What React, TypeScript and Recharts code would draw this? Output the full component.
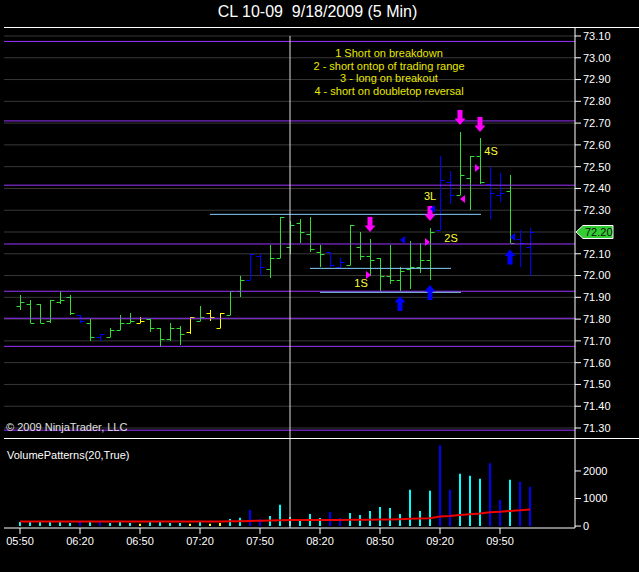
import React from "react";
import {
  ComposedChart,
  Bar,
  Line,
  XAxis,
  YAxis,
  CartesianGrid,
  ReferenceLine,
  ReferenceDot,
  Cell,
} from "recharts";

// 5 minute bars, CL 10-09, 9/18/2009, first bar 05:50
const opens = [
  71.86, 71.87, 71.87, 71.79, 71.88, 71.9, 71.82, 71.78, 71.72, 71.72,
  71.75, 71.78, 71.78, 71.8, 71.76, 71.71, 71.76, 71.74, 71.79, 71.83,
  71.76, 71.82, 71.93, 71.98, 72.09, 72.03, 72.08, 72.13, 72.24, 72.19,
  72.11, 72.11, 72.04, 72.05, 72.13, 72.09, 72.08, 72.0, 71.98, 72.03,
  72.04, 72.07, 72.21, 72.43, 72.37, 72.45, 72.55, 72.42, 72.37, 72.39,
  72.17, 72.13,
];
const highs = [
  71.91, 71.89, 71.87, 71.89, 71.93, 71.91, 71.82, 71.8, 71.73, 71.76,
  71.82, 71.83, 71.81, 71.8, 71.76, 71.78, 71.77, 71.81, 71.86, 71.84,
  71.83, 71.93, 72.0, 72.1, 72.1, 72.14, 72.27, 72.25, 72.26, 72.27,
  72.14, 72.11, 72.08, 72.23, 72.2, 72.17, 72.08, 72.14, 72.04, 72.16,
  72.15, 72.22, 72.55, 72.48, 72.66, 72.55, 72.63, 72.5, 72.47, 72.46,
  72.21, 72.22,
];
const lows = [
  71.84, 71.78, 71.78, 71.78, 71.87, 71.82, 71.78, 71.7, 71.7, 71.72,
  71.75, 71.78, 71.78, 71.74, 71.67, 71.7, 71.68, 71.73, 71.79, 71.79,
  71.76, 71.82, 71.9, 71.98, 72.0, 71.99, 72.08, 72.1, 72.15, 72.11,
  72.04, 72.04, 72.04, 72.05, 72.07, 72.0, 71.93, 71.96, 71.93, 71.94,
  72.01, 71.98, 72.21, 72.33, 72.37, 72.3, 72.42, 72.26, 72.34, 72.15,
  72.04, 72.0,
];
const closes = [
  71.88, 71.78, 71.78, 71.89, 71.89, 71.83, 71.79, 71.72, 71.73, 71.75,
  71.78, 71.79, 71.79, 71.76, 71.71, 71.76, 71.73, 71.81, 71.81, 71.81,
  71.83, 71.93, 71.98, 72.1, 72.04, 72.08, 72.27, 72.23, 72.2, 72.12,
  72.1, 72.05, 72.06, 72.23, 72.09, 72.07, 72.0, 71.98, 72.02, 72.04,
  72.07, 72.2, 72.44, 72.37, 72.46, 72.55, 72.43, 72.38, 72.38, 72.15,
  72.15, 72.2,
];
// volume pattern of each bar: g normal, b blue, y yellow
const patterns = [
  "g", "g", "g", "g", "g", "g", "b", "g", "b", "g",
  "g", "g", "y", "g", "g", "g", "g", "y", "g", "y",
  "y", "g", "g", "b", "b", "g", "g", "g", "g", "g",
  "g", "b", "b", "g", "g", "g", "g", "g", "g", "g",
  "g", "g", "b", "b", "g", "g", "g", "b", "b", "g",
  "b", "b",
];
const volumes = [
  150, 150, 150, 150, 150, 110, 150, 150, 150, 110,
  150, 110, 85, 180, 150, 110, 110, 85, 150, 85,
  110, 255, 305, 585, 255, 365, 770, 330, 255, 440,
  295, 510, 295, 475, 400, 550, 695, 660, 440, 1320,
  550, 1280, 2930, 1320, 1900, 1830, 1720, 2280, 950, 1680,
  1610, 1430,
];
const volumeAvg = [
  170, 170, 170, 170, 170, 170, 170, 170, 170, 170,
  170, 170, 170, 170, 170, 170, 170, 170, 170, 170,
  170, 172, 176, 188, 192, 198, 212, 218, 220, 222,
  222, 224, 224, 226, 228, 232, 238, 242, 250, 265,
  272, 285, 350, 365, 400, 430, 460, 505, 520, 545,
  570, 605,
];

const timeTicks = [0, 6, 12, 18, 24, 30, 36, 42, 48];
const timeLabels = ["05:50", "06:20", "06:50", "07:20", "07:50", "08:20", "08:50", "09:20", "09:50"];

const gridLevels = [
  73.1, 73.0, 72.9, 72.8, 72.7, 72.6, 72.5, 72.4, 72.3, 72.2,
  72.1, 72.0, 71.9, 71.8, 71.7, 71.6, 71.5, 71.4, 71.3,
];
const priceTicks = [
  73.1, 73.0, 72.9, 72.8, 72.7, 72.6, 72.5, 72.4, 72.3,
  72.1, 72.0, 71.9, 71.8, 71.7, 71.6, 71.5, 71.4, 71.3,
];
const volumeTicks = [0, 1000, 2000];
const purpleLevels = [73.075, 72.71, 72.415, 72.145, 71.928, 71.804, 71.675, 71.29];
const rangeLines = [
  { from: 19, to: 46.1, price: 72.281 },
  { from: 29, to: 43.1, price: 72.033 },
  { from: 30, to: 44.1, price: 71.923 },
];
const lastPrice = 72.2;
const crosshairBar = 27;

const downArrows = [
  { i: 35, p: 72.235 },
  { i: 41, p: 72.285 },
  { i: 44, p: 72.726 },
  { i: 46, p: 72.694 },
];
const upArrows = [
  { i: 38, p: 71.872 },
  { i: 41, p: 71.922 },
  { i: 49, p: 72.085 },
];
const pinkRightMarks = [
  { i: 34.8, p: 72.003 },
  { i: 40.7, p: 72.154 },
  { i: 45.7, p: 72.494 },
];
const pinkLeftMarks = [{ i: 44.3, p: 72.352 }];
const blueLeftMarks = [
  { i: 38.3, p: 72.163 },
  { i: 41.3, p: 72.306 },
  { i: 49.3, p: 72.177 },
];
const tradeLabels = [
  { t: "1S", i: 34.1, p: 71.966 },
  { t: "2S", i: 43.1, p: 72.173 },
  { t: "3L", i: 41, p: 72.365 },
  { t: "4S", i: 47.1, p: 72.572 },
];
const notes = [
  "1 Short on breakdown",
  "2 - short ontop of trading range",
  "3 - long on breakout",
  "4 - short on doubletop reversal",
];

const priceColor: Record<string, string> = { g: "#33dd33", b: "#0000ff", y: "#ffff00" };
const volColor: Record<string, string> = { g: "#00ffff", b: "#0000ff", y: "#ffff00" };
const PINK = "#ff00ff";
const BLUE = "#0000ff";
const FONT = "'Liberation Sans', Arial, sans-serif";

const X_DOMAIN: [number, number] = [-1.6, 55.5];

const rows = opens.map((o, i) => ({
  i,
  range: [lows[i], highs[i]],
  open: o,
  close: closes[i],
  kind: patterns[i],
  vol: volumes[i],
  ma: volumeAvg[i],
}));

function OhlcShape(props: any) {
  const { x, y, width, height, payload } = props;
  const top = Math.min(y, y + height);
  const h = Math.abs(height);
  const cx = Math.round(x + width / 2) + 0.5;
  const [lo, hi] = payload.range;
  const span = hi - lo || 1;
  const yOf = (v: number) => Math.round(top + ((hi - v) / span) * h) + 0.5;
  const c = priceColor[payload.kind];
  return (
    <g stroke={c} strokeWidth={1}>
      <line x1={cx} x2={cx} y1={Math.round(top)} y2={Math.round(top + h)} />
      <line x1={cx - 4} x2={cx} y1={yOf(payload.open)} y2={yOf(payload.open)} />
      <line x1={cx} x2={cx + 4} y1={yOf(payload.close)} y2={yOf(payload.close)} />
    </g>
  );
}

const DownArrow = ({ cx, cy }: any) => (
  <g fill={PINK}>
    <rect x={cx - 2.5} y={cy - 7.5} width={5} height={9} />
    <polygon points={`${cx - 5.5},${cy + 1} ${cx + 5.5},${cy + 1} ${cx},${cy + 7.5}`} />
  </g>
);
const UpArrow = ({ cx, cy }: any) => (
  <g fill={BLUE}>
    <rect x={cx - 2.5} y={cy - 1.5} width={5} height={9} />
    <polygon points={`${cx - 5.5},${cy - 1} ${cx + 5.5},${cy - 1} ${cx},${cy - 7.5}`} />
  </g>
);
const RightMark = (color: string) => ({ cx, cy }: any) => (
  <polygon fill={color} points={`${cx - 2},${cy - 4} ${cx - 2},${cy + 4} ${cx + 3},${cy}`} />
);
const LeftMark = (color: string) => ({ cx, cy }: any) => (
  <polygon fill={color} points={`${cx + 2},${cy - 4} ${cx + 2},${cy + 4} ${cx - 3},${cy}`} />
);
const TextMark = (t: string) => ({ cx, cy }: any) => (
  <text x={cx} y={cy + 4} textAnchor="middle" fill="#ffff33" fontSize={11} fontFamily={FONT}>
    {t}
  </text>
);
const PriceTag = ({ cx, cy }: any) => (
  <g>
    <polygon
      points={`${cx + 1},${cy} ${cx + 8},${cy - 6.5} ${cx + 38},${cy - 6.5} ${cx + 38},${cy + 6.5} ${cx + 8},${cy + 6.5}`}
      fill="#33cc33"
      stroke="#ffffff"
      strokeWidth={1}
    />
    <text x={cx + 10} y={cy + 4} fill="#111" fontSize={11} fontFamily={FONT}>
      {lastPrice.toFixed(2)}
    </text>
  </g>
);

const axisTick = { fill: "#ffffff", fontSize: 11, fontFamily: FONT };

export default function App() {
  return (
    <div
      style={{
        position: "fixed",
        left: 0,
        top: 0,
        width: 639,
        height: 572,
        background: "#000",
        overflow: "hidden",
        fontFamily: FONT,
      }}
    >
      <div
        style={{
          position: "absolute",
          top: 3,
          left: 0,
          width: 635,
          textAlign: "center",
          color: "#fff",
          fontSize: 16,
          whiteSpace: "pre",
        }}
      >
        {"CL 10-09  9/18/2009 (5 Min)"}
      </div>
      <div style={{ position: "absolute", top: 27, left: 4, width: 635, height: 1, background: "#fff" }} />

      <div style={{ position: "absolute", top: 28, left: 0 }}>
        <ComposedChart width={639} height={410} data={rows} margin={{ top: 0, right: 0, left: 4, bottom: 0 }}>
          <CartesianGrid horizontalValues={gridLevels} vertical={false} stroke="#383838" />
          <XAxis dataKey="i" type="number" domain={X_DOMAIN} allowDataOverflow hide />
          <YAxis
            orientation="right"
            width={64}
            type="number"
            domain={[71.2541, 73.1367]}
            allowDataOverflow
            ticks={priceTicks}
            interval={0}
            tickFormatter={(v: number) => v.toFixed(2)}
            tick={axisTick}
            tickSize={6}
            tickMargin={2}
            tickLine={{ stroke: "#fff" }}
            axisLine={{ stroke: "#fff" }}
          />
          {purpleLevels.map((p) => (
            <ReferenceLine key={p} y={p} stroke="#9933ff" strokeWidth={1} />
          ))}
          {rangeLines.map((r) => (
            <ReferenceLine
              key={r.price}
              segment={[
                { x: r.from, y: r.price },
                { x: r.to, y: r.price },
              ]}
              stroke="#87cefa"
              strokeWidth={1}
            />
          ))}
          <ReferenceLine
            segment={[
              { x: crosshairBar, y: 73.1 },
              { x: crosshairBar, y: 71.2541 },
            ]}
            stroke="#dddddd"
          />
          <Bar dataKey="range" barSize={7} shape={<OhlcShape />} isAnimationActive={false} />
          {downArrows.map((a, k) => (
            <ReferenceDot key={"d" + k} x={a.i} y={a.p} r={0} shape={DownArrow} />
          ))}
          {upArrows.map((a, k) => (
            <ReferenceDot key={"u" + k} x={a.i} y={a.p} r={0} shape={UpArrow} />
          ))}
          {pinkRightMarks.map((a, k) => (
            <ReferenceDot key={"pr" + k} x={a.i} y={a.p} r={0} shape={RightMark(PINK)} />
          ))}
          {pinkLeftMarks.map((a, k) => (
            <ReferenceDot key={"pl" + k} x={a.i} y={a.p} r={0} shape={LeftMark(PINK)} />
          ))}
          {blueLeftMarks.map((a, k) => (
            <ReferenceDot key={"bl" + k} x={a.i} y={a.p} r={0} shape={LeftMark(BLUE)} />
          ))}
          {tradeLabels.map((a) => (
            <ReferenceDot key={a.t} x={a.i} y={a.p} r={0} shape={TextMark(a.t)} />
          ))}
          <ReferenceDot x={X_DOMAIN[1]} y={lastPrice} r={0} shape={PriceTag} />
        </ComposedChart>
      </div>

      <div
        style={{
          position: "absolute",
          top: 47,
          left: 239,
          width: 300,
          textAlign: "center",
          color: "#e8e800",
          fontSize: 11,
          lineHeight: "12.7px",
        }}
      >
        {notes.map((n) => (
          <div key={n}>{n}</div>
        ))}
      </div>
      <div style={{ position: "absolute", top: 421, left: 6, color: "#e0e0e0", fontSize: 11 }}>
        © 2009 NinjaTrader, LLC
      </div>
      <div style={{ position: "absolute", top: 438, left: 4, width: 635, height: 1, background: "#fff" }} />
      <div style={{ position: "absolute", top: 449, left: 7, color: "#ffffff", fontSize: 11 }}>
        VolumePatterns(20,True)
      </div>

      <div style={{ position: "absolute", top: 439, left: 0 }}>
        <ComposedChart width={639} height={119} data={rows} margin={{ top: 0, right: 0, left: 4, bottom: 0 }}>
          <XAxis
            dataKey="i"
            type="number"
            domain={X_DOMAIN}
            allowDataOverflow
            ticks={timeTicks}
            interval={0}
            tickFormatter={(v: number) => timeLabels[timeTicks.indexOf(v)]}
            tick={axisTick}
            tickLine={{ stroke: "#fff" }}
            tickSize={6}
            tickMargin={3}
            height={30}
            axisLine={{ stroke: "#fff" }}
          />
          <YAxis
            orientation="right"
            width={64}
            type="number"
            domain={[-70, 3160]}
            allowDataOverflow
            ticks={volumeTicks}
            interval={0}
            tick={axisTick}
            tickSize={6}
            tickMargin={2}
            tickLine={{ stroke: "#fff" }}
            axisLine={{ stroke: "#fff" }}
          />
          <ReferenceLine x={crosshairBar} stroke="#dddddd" />
          <Bar dataKey="vol" barSize={2} isAnimationActive={false}>
            {rows.map((r) => (
              <Cell key={r.i} fill={volColor[r.kind]} />
            ))}
          </Bar>
          <Line dataKey="ma" stroke="#ee0000" strokeWidth={2} dot={false} isAnimationActive={false} />
        </ComposedChart>
      </div>
    </div>
  );
}
